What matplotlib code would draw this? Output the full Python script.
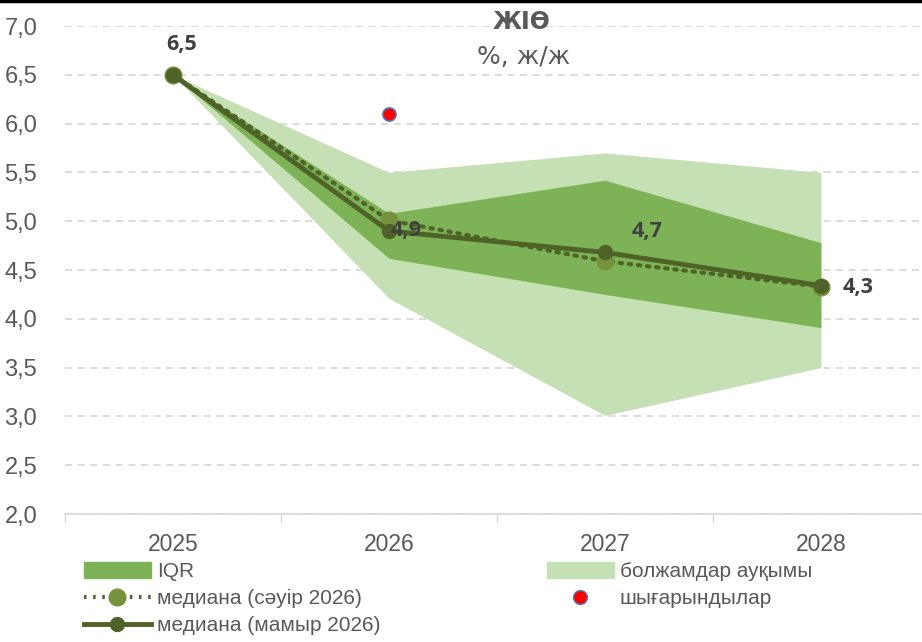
import matplotlib
matplotlib.use("Agg")
import matplotlib.pyplot as plt
from matplotlib.patches import Patch
from matplotlib.lines import Line2D

years = ["2025", "2026", "2027", "2028"]
median_may = [6.5, 4.9, 4.68, 4.34]
median_apr = [6.5, 5.01, 4.59, 4.33]
iqr_low = [6.5, 4.62, 4.25, 3.91]
iqr_high = [6.5, 5.08, 5.42, 4.78]
range_low = [6.5, 4.21, 3.01, 3.5]
range_high = [6.5, 5.5, 5.7, 5.5]
outlier_x = [1]
outlier_y = [6.1]
labels_may = ["6,5", "4,9", "4,7", "4,3"]
yticks = [2.0, 2.5, 3.0, 3.5, 4.0, 4.5, 5.0, 5.5, 6.0, 6.5, 7.0]

plt.rcParams["font.family"] = ["Liberation Sans", "DejaVu Sans"]

c_range = "#C5E0B4"
c_iqr = "#7DB356"
c_may = "#4F6228"
c_apr = "#76923C"
c_text = "#595959"

fig = plt.figure(figsize=(9.22, 6.42), dpi=100)
ax = fig.add_axes([65 / 922, 1 - 514 / 642, 1 - 65 / 922, (514 - 26) / 642])

x = list(range(len(years)))
ax.fill_between(x, range_low, range_high, color=c_range, lw=0, zorder=1)
ax.fill_between(x, iqr_low, iqr_high, color=c_iqr, lw=0, zorder=2)
ax.plot(x, median_apr, ls=(0, (0.6, 1.6)), lw=3, color=c_may, marker="o",
        markersize=12, markerfacecolor=c_apr, markeredgecolor=c_apr,
        dash_capstyle="round", zorder=3)
ax.plot(x, median_may, ls="-", lw=3.5, color=c_may, marker="o", markersize=10,
        markerfacecolor=c_may, markeredgecolor=c_may, zorder=4)
ax.scatter(outlier_x, outlier_y, s=90, color="#FF0000", edgecolors="#4A7EBB",
           linewidths=1.2, zorder=5)

# data labels for the May median (offsets in points)
offsets = [(6, 22), (12, 0), (30, 15), (27, -1)]
for xi, yi, lab, off in zip(x, median_may, labels_may, offsets):
    ax.annotate(lab, (xi, yi), xytext=off, textcoords="offset points",
                ha="center", va="center", fontsize=15.5, fontweight="bold",
                color="#404040", family=["Open Sans", "DejaVu Sans"], zorder=6)

ax.set_xlim(-0.5, 3.468)
ax.set_ylim(2, 7)
ax.set_yticks(yticks)
ax.set_yticklabels([f"{v:.1f}".replace(".", ",") for v in yticks])
ax.set_xticks(x)
ax.set_xticklabels(years)
ax.set_xticks([-0.5, 0.5, 1.5, 2.5], minor=True)
ax.tick_params(axis="x", which="major", length=0, pad=14, labelsize=16.5,
               labelcolor=c_text)
ax.tick_params(axis="x", which="minor", length=6, color="#D9D9D9", width=1)
ax.tick_params(axis="y", length=0, pad=20, labelsize=17, labelcolor=c_text)

ax.grid(axis="y", color="#D9D9D9", ls=(0, (4, 3)), lw=1.3, zorder=0)
ax.set_axisbelow(True)
for s in ["top", "right", "left"]:
    ax.spines[s].set_visible(False)
ax.spines["bottom"].set_color("#D9D9D9")
ax.spines["bottom"].set_linewidth(1.2)

fig.text(522 / 922, 1 - 22 / 642, "ЖІӨ", ha="center", va="center",
         fontsize=17, fontweight="bold", color=c_text,
         family=["DejaVu Sans"])
fig.text(524 / 922, 1 - 57 / 642, "%, ж/ж", ha="center", va="center",
         fontsize=18, color=c_text, family=["DejaVu Sans"])

# top frame line
fig.add_artist(Line2D([0, 1], [0.998, 0.998], transform=fig.transFigure,
                      color="black", lw=2.5))

h_iqr = Patch(color=c_iqr)
h_range = Patch(color=c_range)
h_apr = Line2D([], [], ls=(0, (0.6, 1.6)), lw=3, color=c_may, marker="o",
               markersize=12, markerfacecolor=c_apr, markeredgecolor=c_apr)
h_may = Line2D([], [], ls="-", lw=3.5, color=c_may, marker="o", markersize=10)
h_out = Line2D([], [], ls="none", marker="o", markersize=10,
               markerfacecolor="#FF0000", markeredgecolor="#4A7EBB")

leg_kw = dict(frameon=False, fontsize=15, labelcolor=c_text,
              handlelength=3.2, handleheight=0.8, handletextpad=0.3,
              labelspacing=0.38, borderpad=0, borderaxespad=0)
leg1 = fig.legend([h_iqr, h_apr, h_may],
                  ["IQR", "медиана (сәуір 2026)", "медиана (мамыр 2026)"],
                  loc="upper left", bbox_to_anchor=(84 / 922, 1 - 562 / 642),
                  **leg_kw)
leg2 = fig.legend([h_range, h_out], ["болжамдар ауқымы", "шығарындылар"],
                  loc="upper left", bbox_to_anchor=(547 / 922, 1 - 562 / 642),
                  **leg_kw)

fig.savefig("out.png", dpi=100)
plt.close(fig)
